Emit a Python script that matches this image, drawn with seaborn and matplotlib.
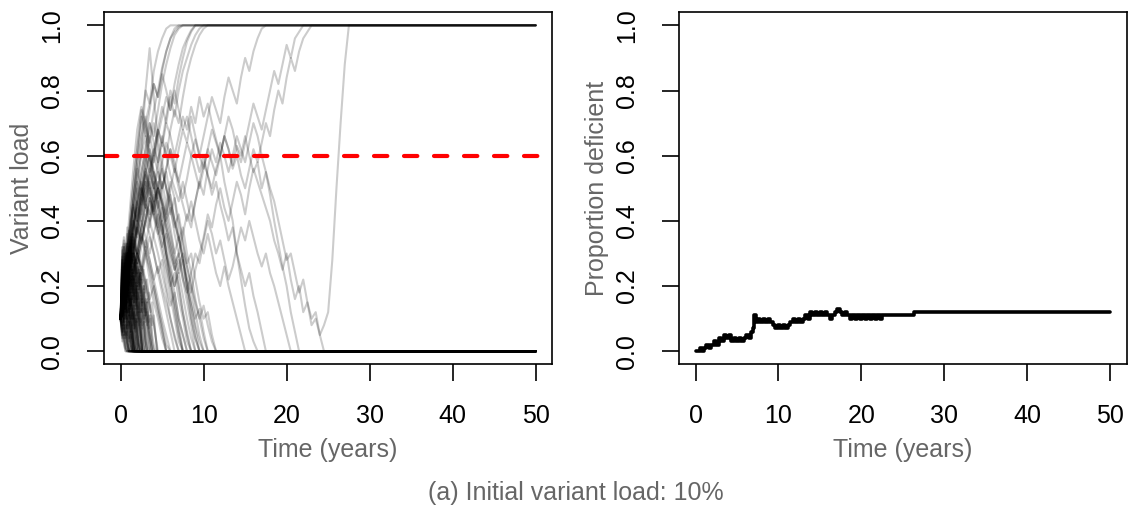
import numpy as np
import pandas as pd
import matplotlib
matplotlib.use("Agg")
import matplotlib.pyplot as plt
import seaborn as sns

# ---------------- data ----------------
t_end = 50.0          # end of the simulated period (years)
dt_quick = 0.2        # sampling step of the short-lived runs (years)
dt_slow = 0.5         # sampling step of the longer runs (years)
threshold = 0.6       # deficiency threshold

# runs lost quickly (value -> 0 within a few years)
quick_runs = [
    [0.1, 0.06, 0.03, 0.0],
    [0.1, 0.05, 0.04, 0.01, 0.0],
    [0.1, 0.14, 0.08, 0.05, 0.02, 0.0],
    [0.1, 0.18, 0.12, 0.15, 0.08, 0.04, 0.0],
    [0.1, 0.2, 0.26, 0.18, 0.22, 0.14, 0.09, 0.05, 0.0],
    [0.1, 0.25, 0.3, 0.22, 0.18, 0.24, 0.16, 0.1, 0.12, 0.05, 0.0],
    [0.1, 0.08, 0.12, 0.07, 0.1, 0.04, 0.02, 0.0],
    [0.1, 0.16, 0.1, 0.13, 0.09, 0.11, 0.06, 0.08, 0.03, 0.0],
    [0.1, 0.22, 0.17, 0.28, 0.21, 0.25, 0.19, 0.14, 0.18, 0.1, 0.06, 0.02, 0.0],
    [0.1, 0.3, 0.35, 0.27, 0.32, 0.24, 0.28, 0.2, 0.15, 0.19, 0.12, 0.08, 0.1, 0.04, 0.0],
    [0.1, 0.12, 0.06, 0.09, 0.03, 0.0],
    [0.1, 0.19, 0.24, 0.17, 0.2, 0.13, 0.16, 0.1, 0.07, 0.03, 0.0],
    [0.1, 0.07, 0.11, 0.16, 0.12, 0.18, 0.14, 0.2, 0.15, 0.11, 0.14, 0.08, 0.05, 0.0],
    [0.1, 0.28, 0.22, 0.31, 0.36, 0.29, 0.33, 0.25, 0.3, 0.22, 0.18, 0.23, 0.16, 0.12, 0.15, 0.09, 0.05, 0.0],
    [0.1, 0.04, 0.07, 0.02, 0.0],
    [0.1, 0.15, 0.21, 0.16, 0.1, 0.13, 0.07, 0.04, 0.0],
    [0.1, 0.23, 0.18, 0.13, 0.17, 0.09, 0.12, 0.06, 0.02, 0.0],
    [0.1, 0.11, 0.17, 0.23, 0.19, 0.26, 0.2, 0.24, 0.17, 0.21, 0.14, 0.1, 0.13, 0.07, 0.09, 0.03, 0.0],
    [0.1, 0.26, 0.33, 0.28, 0.38, 0.32, 0.27, 0.34, 0.29, 0.23, 0.27, 0.2, 0.24, 0.17, 0.13, 0.16, 0.1, 0.06, 0.03, 0.0],
    [0.1, 0.09, 0.05, 0.08, 0.03, 0.01, 0.0],
    [0.1, 0.17, 0.13, 0.19, 0.14, 0.08, 0.11, 0.05, 0.0],
    [0.1, 0.21, 0.15, 0.19, 0.12, 0.16, 0.1, 0.13, 0.07, 0.1, 0.04, 0.0],
    [0.1, 0.13, 0.09, 0.14, 0.2, 0.15, 0.22, 0.18, 0.25, 0.2, 0.16, 0.19, 0.12, 0.15, 0.09, 0.06, 0.02, 0.0],
    [0.1, 0.32, 0.27, 0.22, 0.26, 0.19, 0.14, 0.17, 0.1, 0.06, 0.0],
    [0.1, 0.06, 0.1, 0.05, 0.08, 0.04, 0.06, 0.02, 0.0],
    [0.1, 0.18, 0.24, 0.3, 0.25, 0.29, 0.35, 0.3, 0.26, 0.31, 0.24, 0.28, 0.22, 0.26, 0.19, 0.22, 0.15, 0.18, 0.12, 0.08, 0.11, 0.05, 0.0],
    [0.1, 0.14, 0.2, 0.15, 0.11, 0.07, 0.09, 0.04, 0.0],
    [0.1, 0.24, 0.19, 0.23, 0.16, 0.2, 0.15, 0.11, 0.14, 0.09, 0.12, 0.07, 0.03, 0.0],
    [0.1, 0.12, 0.08, 0.11, 0.06, 0.03, 0.05, 0.01, 0.0],
    [0.1, 0.2, 0.27, 0.23, 0.3, 0.26, 0.21, 0.25, 0.18, 0.14, 0.18, 0.13, 0.08, 0.0],
    [0.1, 0.08, 0.13, 0.1, 0.15, 0.11, 0.16, 0.12, 0.08, 0.1, 0.05, 0.02, 0.0],
    [0.1, 0.29, 0.24, 0.2, 0.15, 0.18, 0.11, 0.07, 0.03, 0.0],
    [0.1, 0.16, 0.22, 0.28, 0.33, 0.27, 0.31, 0.36, 0.3, 0.34, 0.27, 0.31, 0.25, 0.21, 0.25, 0.18, 0.22, 0.16, 0.12, 0.15, 0.09, 0.05, 0.0],
    [0.1, 0.05, 0.02, 0.0],
    [0.1, 0.13, 0.18, 0.12, 0.15, 0.09, 0.05, 0.0],
    [0.1, 0.22, 0.28, 0.2, 0.24, 0.17, 0.13, 0.16, 0.1, 0.13, 0.06, 0.02, 0.0],
    [0.1, 0.19, 0.14, 0.18, 0.23, 0.18, 0.22, 0.16, 0.19, 0.13, 0.16, 0.1, 0.07, 0.04, 0.0],
    [0.1, 0.27, 0.21, 0.26, 0.19, 0.14, 0.1, 0.06, 0.0],
    [0.1, 0.09, 0.14, 0.19, 0.15, 0.21, 0.27, 0.23, 0.29, 0.24, 0.2, 0.24, 0.19, 0.15, 0.18, 0.12, 0.08, 0.11, 0.06, 0.02, 0.0],
    [0.1, 0.11, 0.07, 0.04, 0.06, 0.02, 0.0],
    [0.1, 0.2, 0.15, 0.24, 0.3, 0.25, 0.2, 0.26, 0.21, 0.16, 0.2, 0.14, 0.1, 0.06, 0.0],
    [0.1, 0.03, 0.05, 0.01, 0.0],
    [0.1, 0.17, 0.22, 0.27, 0.21, 0.17, 0.12, 0.08, 0.04, 0.0],
    [0.1, 0.12, 0.18, 0.24, 0.3, 0.26, 0.32, 0.27, 0.22, 0.28, 0.23, 0.19, 0.24, 0.18, 0.13, 0.09, 0.12, 0.06, 0.03, 0.0],
    [0.1, 0.06, 0.09, 0.13, 0.08, 0.05, 0.02, 0.0],
    [0.1, 0.25, 0.2, 0.15, 0.1, 0.14, 0.08, 0.03, 0.0],
    [0.1, 0.14, 0.1, 0.06, 0.03, 0.0],
    [0.1, 0.21, 0.27, 0.33, 0.28, 0.24, 0.29, 0.35, 0.31, 0.26, 0.2, 0.25, 0.19, 0.14, 0.1, 0.13, 0.07, 0.03, 0.0],
    [0.1, 0.08, 0.04, 0.06, 0.02, 0.0],
    [0.1, 0.19, 0.26, 0.2, 0.15, 0.19, 0.13, 0.17, 0.11, 0.07, 0.1, 0.05, 0.0],
    [0.1, 0.13, 0.17, 0.12, 0.16, 0.21, 0.17, 0.13, 0.09, 0.05, 0.02, 0.0],
    [0.1, 0.28, 0.34, 0.29, 0.25, 0.3, 0.24, 0.19, 0.23, 0.17, 0.12, 0.08, 0.04, 0.0],
    [0.1, 0.07, 0.05, 0.08, 0.04, 0.0],
    [0.1, 0.16, 0.23, 0.18, 0.25, 0.31, 0.26, 0.3, 0.24, 0.28, 0.21, 0.25, 0.18, 0.22, 0.16, 0.11, 0.15, 0.09, 0.11, 0.05, 0.02, 0.0],
    [0.1, 0.11, 0.15, 0.1, 0.07, 0.09, 0.04, 0.0],
    [0.1, 0.23, 0.3, 0.24, 0.19, 0.14, 0.18, 0.12, 0.07, 0.0],
    [0.1, 0.05, 0.08, 0.03, 0.01, 0.0],
    [0.1, 0.18, 0.14, 0.2, 0.26, 0.22, 0.18, 0.23, 0.17, 0.21, 0.15, 0.1, 0.06, 0.0],
    [0.1, 0.15, 0.11, 0.16, 0.12, 0.08, 0.05, 0.0],
    [0.1, 0.27, 0.32, 0.26, 0.31, 0.37, 0.32, 0.27, 0.32, 0.26, 0.21, 0.26, 0.2, 0.16, 0.2, 0.13, 0.09, 0.05, 0.0],
    [0.1, 0.21, 0.14, 0.24, 0.17, 0.27, 0.19, 0.25, 0.15, 0.22, 0.13, 0.18, 0.09, 0.13, 0.05, 0.0],
    [0.1, 0.17, 0.09, 0.15, 0.08, 0.13, 0.06, 0.1, 0.03, 0.0],
    [0.1, 0.26, 0.18, 0.29, 0.21, 0.31, 0.23, 0.28, 0.19, 0.24, 0.16, 0.21, 0.12, 0.16, 0.08, 0.03, 0.0],
    [0.1, 0.15, 0.22, 0.14, 0.2, 0.12, 0.18, 0.1, 0.14, 0.06, 0.09, 0.02, 0.0],
    [0.1, 0.31, 0.22, 0.3, 0.2, 0.27, 0.18, 0.24, 0.15, 0.2, 0.11, 0.15, 0.07, 0.0],
    [0.1, 0.13, 0.07, 0.12, 0.05, 0.09, 0.02, 0.0],
    [0.1, 0.19, 0.27, 0.2, 0.28, 0.21, 0.3, 0.22, 0.27, 0.18, 0.24, 0.16, 0.22, 0.14, 0.19, 0.11, 0.15, 0.07, 0.1, 0.03, 0.0],
    [0.1, 0.22, 0.16, 0.25, 0.18, 0.23, 0.14, 0.19, 0.1, 0.15, 0.07, 0.0],
    [0.1, 0.09, 0.16, 0.1, 0.17, 0.11, 0.15, 0.08, 0.12, 0.05, 0.0],
    [0.1, 0.24, 0.32, 0.24, 0.33, 0.26, 0.34, 0.25, 0.3, 0.21, 0.27, 0.19, 0.24, 0.15, 0.2, 0.12, 0.16, 0.08, 0.04, 0.0],
    [0.1, 0.18, 0.11, 0.18, 0.12, 0.17, 0.1, 0.14, 0.07, 0.11, 0.04, 0.0],
    [0.1, 0.28, 0.2, 0.27, 0.19, 0.25, 0.16, 0.21, 0.13, 0.17, 0.09, 0.12, 0.05, 0.0],
    [0.1, 0.12, 0.2, 0.13, 0.21, 0.15, 0.23, 0.16, 0.22, 0.14, 0.19, 0.12, 0.16, 0.08, 0.11, 0.04, 0.0],
    [0.1, 0.16, 0.1, 0.14, 0.07, 0.11, 0.04, 0.06, 0.0],
    [0.1, 0.23, 0.29, 0.21, 0.28, 0.2, 0.26, 0.18, 0.23, 0.15, 0.2, 0.13, 0.17, 0.09, 0.05, 0.0],
]

# runs lost after several years
mid_runs = [
    [0.1, 0.2, 0.32, 0.45, 0.58, 0.66, 0.72, 0.62, 0.55, 0.48, 0.4, 0.3, 0.22, 0.12, 0.05, 0.0],
    [0.1, 0.18, 0.26, 0.35, 0.5, 0.62, 0.8, 0.93, 0.78, 0.65, 0.58, 0.5, 0.42, 0.47, 0.36, 0.28, 0.2, 0.11, 0.04, 0.0],
    [0.1, 0.15, 0.24, 0.3, 0.38, 0.45, 0.52, 0.48, 0.55, 0.5, 0.46, 0.4, 0.44, 0.36, 0.3, 0.22, 0.15, 0.08, 0.0],
    [0.1, 0.22, 0.3, 0.27, 0.36, 0.42, 0.5, 0.46, 0.52, 0.44, 0.38, 0.3, 0.25, 0.18, 0.1, 0.05, 0.0],
    [0.1, 0.16, 0.21, 0.28, 0.24, 0.32, 0.4, 0.36, 0.3, 0.24, 0.18, 0.12, 0.06, 0.0],
    [0.1, 0.2, 0.28, 0.38, 0.46, 0.55, 0.62, 0.7, 0.64, 0.58, 0.5, 0.55, 0.47, 0.4, 0.34, 0.28, 0.2, 0.14, 0.08, 0.03, 0.0],
    [0.1, 0.14, 0.2, 0.25, 0.3, 0.36, 0.32, 0.4, 0.45, 0.5, 0.46, 0.42, 0.48, 0.4, 0.34, 0.38, 0.3, 0.24, 0.16, 0.1, 0.04, 0.0],
    [0.1, 0.19, 0.27, 0.22, 0.3, 0.26, 0.2, 0.14, 0.08, 0.0],
    [0.1, 0.24, 0.36, 0.5, 0.62, 0.74, 0.68, 0.6, 0.52, 0.45, 0.38, 0.3, 0.22, 0.15, 0.08, 0.0],
    [0.1, 0.17, 0.25, 0.33, 0.3, 0.38, 0.45, 0.42, 0.5, 0.46, 0.4, 0.45, 0.52, 0.47, 0.4, 0.33, 0.27, 0.3, 0.22, 0.15, 0.1, 0.12, 0.05, 0.0],
    [0.1, 0.2, 0.16, 0.24, 0.3, 0.26, 0.34, 0.28, 0.22, 0.16, 0.1, 0.05, 0.0],
    [0.1, 0.22, 0.34, 0.46, 0.56, 0.5, 0.44, 0.5, 0.42, 0.36, 0.3, 0.24, 0.17, 0.1, 0.03, 0.0],
    [0.1, 0.15, 0.12, 0.2, 0.26, 0.22, 0.3, 0.35, 0.3, 0.24, 0.28, 0.2, 0.14, 0.18, 0.1, 0.05, 0.0],
    [0.1, 0.25, 0.4, 0.55, 0.68, 0.75, 0.7, 0.64, 0.7, 0.62, 0.55, 0.5, 0.44, 0.38, 0.42, 0.34, 0.26, 0.2, 0.12, 0.05, 0.0],
    [0.1, 0.18, 0.24, 0.2, 0.28, 0.34, 0.4, 0.47, 0.43, 0.5, 0.45, 0.4, 0.34, 0.28, 0.2, 0.12, 0.06, 0.0],
    [0.1, 0.13, 0.18, 0.23, 0.19, 0.26, 0.22, 0.16, 0.2, 0.13, 0.08, 0.02, 0.0],
    [0.1, 0.21, 0.32, 0.28, 0.38, 0.48, 0.55, 0.6, 0.54, 0.47, 0.52, 0.45, 0.38, 0.3, 0.24, 0.28, 0.2, 0.14, 0.07, 0.0],
    [0.1, 0.16, 0.26, 0.36, 0.3, 0.24, 0.3, 0.22, 0.15, 0.1, 0.04, 0.0],
    [0.1, 0.2, 0.3, 0.42, 0.52, 0.6, 0.66, 0.58, 0.5, 0.55, 0.48, 0.42, 0.36, 0.3, 0.35, 0.28, 0.22, 0.16, 0.1, 0.13, 0.06, 0.0],
    [0.1, 0.14, 0.22, 0.3, 0.27, 0.35, 0.3, 0.25, 0.18, 0.12, 0.06, 0.0],
    [0.1, 0.23, 0.33, 0.44, 0.4, 0.48, 0.56, 0.5, 0.46, 0.52, 0.45, 0.38, 0.32, 0.26, 0.2, 0.12, 0.05, 0.0],
    [0.1, 0.17, 0.24, 0.31, 0.38, 0.34, 0.42, 0.38, 0.46, 0.5, 0.44, 0.38, 0.33, 0.27, 0.3, 0.24, 0.18, 0.1, 0.04, 0.0],
    [0.1, 0.2, 0.28, 0.35, 0.3, 0.38, 0.44, 0.4, 0.35, 0.3, 0.24, 0.18, 0.1, 0.04, 0.0],
    [0.1, 0.18, 0.25, 0.32, 0.4, 0.36, 0.31, 0.26, 0.2, 0.14, 0.07, 0.0],
    [0.1, 0.22, 0.3, 0.38, 0.45, 0.52, 0.47, 0.42, 0.48, 0.42, 0.35, 0.28, 0.2, 0.14, 0.06, 0.0],
    [0.1, 0.16, 0.24, 0.3, 0.27, 0.34, 0.4, 0.46, 0.41, 0.36, 0.4, 0.33, 0.27, 0.2, 0.24, 0.17, 0.1, 0.04, 0.0],
    [0.1, 0.2, 0.27, 0.24, 0.3, 0.25, 0.32, 0.28, 0.22, 0.26, 0.2, 0.15, 0.1, 0.05, 0.0],
    [0.1, 0.25, 0.36, 0.45, 0.4, 0.48, 0.55, 0.5, 0.44, 0.38, 0.32, 0.26, 0.2, 0.24, 0.16, 0.1, 0.03, 0.0],
]

# runs lost late (after 10-25 years)
late_runs = [
    [0.1, 0.2, 0.3, 0.38, 0.46, 0.52, 0.6, 0.55, 0.62, 0.68, 0.63, 0.7, 0.66, 0.6, 0.66, 0.72, 0.68, 0.75, 0.7, 0.78,
     0.72, 0.76, 0.7, 0.65, 0.6, 0.52, 0.46, 0.4, 0.3, 0.22, 0.14, 0.07, 0.03, 0.0],
    [0.1, 0.18, 0.26, 0.34, 0.42, 0.5, 0.46, 0.54, 0.6, 0.55, 0.5, 0.56, 0.62, 0.58, 0.52, 0.47, 0.53, 0.6, 0.65, 0.6,
     0.56, 0.62, 0.58, 0.54, 0.6, 0.66, 0.62, 0.57, 0.63, 0.6, 0.66, 0.6, 0.55, 0.58, 0.5, 0.55, 0.48, 0.4, 0.33, 0.26,
     0.2, 0.12, 0.06, 0.0],
    [0.1, 0.2, 0.3, 0.4, 0.36, 0.45, 0.52, 0.48, 0.42, 0.38, 0.44, 0.36, 0.3, 0.25, 0.3, 0.36, 0.42, 0.38, 0.46, 0.52,
     0.48, 0.56, 0.62, 0.58, 0.64, 0.6, 0.55, 0.6, 0.66, 0.62, 0.58, 0.64, 0.7, 0.66, 0.6, 0.55, 0.5, 0.46, 0.4, 0.34,
     0.28, 0.3, 0.24, 0.18, 0.22, 0.15, 0.1, 0.12, 0.05, 0.0],
    [0.1, 0.15, 0.22, 0.3, 0.38, 0.33, 0.4, 0.47, 0.42, 0.5, 0.56, 0.5, 0.46, 0.4, 0.35, 0.3, 0.26, 0.2, 0.15, 0.1,
     0.14, 0.08, 0.03, 0.0],
    [0.1, 0.2, 0.28, 0.36, 0.44, 0.5, 0.45, 0.4, 0.46, 0.38, 0.32, 0.36, 0.3, 0.25, 0.28, 0.22, 0.18, 0.24, 0.3, 0.27,
     0.34, 0.4, 0.36, 0.3, 0.34, 0.28, 0.22, 0.26, 0.32, 0.38, 0.34, 0.4, 0.35, 0.3, 0.26, 0.3, 0.24, 0.2, 0.15, 0.1,
     0.05, 0.0],
    [0.1, 0.2, 0.3, 0.38, 0.46, 0.42, 0.5, 0.56, 0.5, 0.44, 0.5, 0.56, 0.62, 0.56, 0.5, 0.45, 0.4, 0.46, 0.4, 0.34,
     0.3, 0.36, 0.3, 0.24, 0.2, 0.26, 0.2, 0.15, 0.1, 0.05, 0.0],
    [0.1, 0.22, 0.34, 0.45, 0.55, 0.62, 0.7, 0.76, 0.82, 0.78, 0.85, 0.8, 0.74, 0.8, 0.74, 0.68, 0.72, 0.66, 0.6, 0.55,
     0.6, 0.54, 0.48, 0.52, 0.45, 0.4, 0.34, 0.38, 0.3, 0.25, 0.2, 0.24, 0.17, 0.12, 0.06, 0.0],
]

# runs that reach fixation (value -> 1)
fixed_runs = [
    [0.1, 0.2, 0.32, 0.45, 0.58, 0.7, 0.8, 0.76, 0.86, 0.92, 0.96, 0.99, 1.0],
    [0.1, 0.18, 0.28, 0.36, 0.46, 0.55, 0.62, 0.7, 0.66, 0.74, 0.82, 0.88, 0.93, 0.97, 0.99, 1.0],
    [0.1, 0.22, 0.3, 0.4, 0.5, 0.45, 0.55, 0.62, 0.58, 0.66, 0.72, 0.78, 0.74, 0.82, 0.88, 0.93, 0.96, 0.985, 1.0],
    [0.1, 0.16, 0.24, 0.32, 0.4, 0.5, 0.58, 0.66, 0.6, 0.68, 0.75, 0.7, 0.78, 0.72, 0.8, 0.86, 0.9, 0.94, 0.97, 0.99, 1.0],
    [0.1, 0.2, 0.3, 0.42, 0.52, 0.48, 0.58, 0.66, 0.74, 0.8, 0.87, 0.92, 0.96, 0.99, 1.0],
    [0.1, 0.18, 0.26, 0.34, 0.3, 0.38, 0.46, 0.54, 0.5, 0.58, 0.64, 0.6, 0.68, 0.74, 0.7, 0.78, 0.85, 0.9, 0.94, 0.97,
     0.99, 1.0],
    [0.1, 0.2, 0.3, 0.4, 0.35, 0.44, 0.52, 0.6, 0.55, 0.5, 0.58, 0.64, 0.6, 0.55, 0.62, 0.68, 0.64, 0.72, 0.66, 0.6,
     0.66, 0.72, 0.78, 0.74, 0.7, 0.78, 0.84, 0.8, 0.76, 0.84, 0.9, 0.86, 0.92, 0.96, 0.99, 1.0],
    [0.1, 0.16, 0.24, 0.32, 0.4, 0.48, 0.44, 0.52, 0.46, 0.4, 0.36, 0.42, 0.5, 0.56, 0.52, 0.58, 0.64, 0.6, 0.55, 0.5,
     0.56, 0.62, 0.68, 0.64, 0.6, 0.66, 0.72, 0.68, 0.62, 0.58, 0.64, 0.7, 0.76, 0.72, 0.68, 0.74, 0.8, 0.86, 0.82, 0.88,
     0.94, 0.9, 0.96, 0.98, 1.0],
    [0.1, 0.2, 0.28, 0.36, 0.44, 0.4, 0.48, 0.56, 0.62, 0.58, 0.66, 0.6, 0.54, 0.5, 0.46, 0.52, 0.46, 0.4, 0.46, 0.52,
     0.58, 0.54, 0.5, 0.56, 0.6, 0.66, 0.62, 0.56, 0.6, 0.54, 0.5, 0.56, 0.62, 0.58, 0.64, 0.7, 0.66, 0.74, 0.8, 0.76,
     0.84, 0.9, 0.86, 0.92, 0.96, 0.98, 1.0],
    [0.1, 0.18, 0.28, 0.24, 0.32, 0.4, 0.35, 0.3, 0.36, 0.42, 0.38, 0.3, 0.24, 0.2, 0.26, 0.3, 0.22, 0.18, 0.25, 0.3,
     0.35, 0.42, 0.38, 0.45, 0.5, 0.44, 0.4, 0.46, 0.52, 0.48, 0.42, 0.5, 0.56, 0.52, 0.48, 0.44, 0.4, 0.34, 0.3, 0.25,
     0.3, 0.22, 0.16, 0.2, 0.12, 0.15, 0.08, 0.1, 0.05, 0.08, 0.12, 0.28, 0.5, 0.7, 0.88, 1.0],
    [0.1, 0.24, 0.36, 0.5, 0.62, 0.72, 0.66, 0.74, 0.82, 0.78, 0.86, 0.92, 0.96, 0.98, 0.995, 1.0],
    [0.1, 0.15, 0.22, 0.3, 0.38, 0.46, 0.54, 0.5, 0.6, 0.68, 0.64, 0.72, 0.8, 0.76, 0.84, 0.9, 0.95, 0.98, 1.0],
]

# proportion of runs above the threshold (right panel)
prop_t = [
    0.0, 0.5, 0.8, 1.0, 1.3, 1.6, 1.9, 2.2, 2.5, 2.8,
    3.1, 3.4, 3.7, 4.0, 4.3, 4.6, 4.9, 5.2, 5.5, 5.8,
    6.1, 6.4, 6.7, 6.9, 7.1, 7.3, 7.5, 7.8, 8.1, 8.4,
    8.7, 9.0, 9.3, 9.6, 9.9, 10.2, 10.5, 10.8, 11.1, 11.4,
    11.7, 12.0, 12.3, 12.6, 12.9, 13.2, 13.5, 13.8, 14.1, 14.4,
    14.7, 15.0, 15.3, 15.6, 15.9, 16.2, 16.5, 16.8, 17.1, 17.4,
    17.7, 18.0, 18.3, 18.6, 18.9, 19.2, 19.5, 19.8, 20.1, 20.4,
    20.7, 21.0, 21.3, 21.6, 21.9, 22.2, 22.5, 26.3, 50.0]
prop_v = [
    0.00, 0.01, 0.00, 0.01, 0.02, 0.01, 0.02, 0.03, 0.02, 0.04,
    0.03, 0.05, 0.04, 0.05, 0.03, 0.04, 0.03, 0.04, 0.03, 0.04,
    0.05, 0.04, 0.06, 0.07, 0.11, 0.09, 0.10, 0.09, 0.10, 0.09,
    0.10, 0.09, 0.08, 0.07, 0.08, 0.07, 0.08, 0.07, 0.08, 0.09,
    0.10, 0.09, 0.10, 0.09, 0.10, 0.11, 0.10, 0.12, 0.11, 0.12,
    0.11, 0.12, 0.11, 0.12, 0.11, 0.10, 0.11, 0.12, 0.13, 0.12,
    0.11, 0.12, 0.11, 0.10, 0.11, 0.10, 0.11, 0.10, 0.11, 0.10,
    0.11, 0.10, 0.11, 0.10, 0.11, 0.10, 0.11, 0.12, 0.12]

x_ticks = [0, 10, 20, 30, 40, 50]
y_ticks = [0.0, 0.2, 0.4, 0.6, 0.8, 1.0]
y_tick_labels = ["0.0", "0.2", "0.4", "0.6", "0.8", "1.0"]

# ---------------- long table of runs ----------------
rows = []
run_id = 0
for group, dt in [(quick_runs, dt_quick), (mid_runs, dt_slow),
                  (late_runs, dt_slow), (fixed_runs, dt_slow)]:
    for vals in group:
        for i, v in enumerate(vals):
            rows.append((run_id, i * dt, v))
        # absorbed state kept until the end of the period
        rows.append((run_id, t_end, vals[-1]))
        run_id += 1
runs = pd.DataFrame(rows, columns=["run", "time", "load"])
prop = pd.DataFrame({"time": prop_t[:len(prop_v)], "prop": prop_v[:len(prop_t)]})

# ---------------- style ----------------
sns.set_style("ticks")
plt.rcParams["font.family"] = ["Liberation Sans", "DejaVu Sans"]
plt.rcParams["axes.edgecolor"] = "black"
plt.rcParams["axes.linewidth"] = 1.2

W, H = 1133, 512
fig = plt.figure(figsize=(W / 100, H / 100), dpi=100)
fig.patch.set_facecolor("white")
ax1 = fig.add_axes([104 / W, (H - 364.3) / H, 448.3 / W, 352 / H])
ax2 = fig.add_axes([679 / W, (H - 364.3) / H, 447.7 / W, 352 / H])

lab_col = "#666666"
fs = 18

# left panel: trajectories
sns.lineplot(data=runs, x="time", y="load", units="run", estimator=None,
             color="black", alpha=0.2, linewidth=1.5, legend=False, ax=ax1)
ax1.axhline(threshold, color="#ff0000", linewidth=3.0, linestyle=(0, (3.2, 4.0)),
            dash_capstyle="round")

# right panel: proportion deficient
sns.lineplot(data=prop, x="time", y="prop", estimator=None, color="black",
             linewidth=2.6, drawstyle="steps-post", legend=False, ax=ax2)

for ax, ylab in [(ax1, "Variant load"), (ax2, "Proportion deficient")]:
    ax.set_xlim(-2, 52)
    ax.set_ylim(-0.04, 1.04)
    ax.set_xticks(x_ticks)
    ax.set_xticklabels([str(v) for v in x_ticks])
    ax.set_yticks(y_ticks)
    ax.set_yticklabels(y_tick_labels, rotation=90, va="center")
    ax.tick_params(direction="out", length=12, width=1.2, labelsize=fs,
                   pad=16.5, colors="black")
    for sp in ax.spines.values():
        sp.set_visible(True)
        sp.set_linewidth(1.2)
        sp.set_color("black")
    ax.set_xlabel("Time (years)", fontsize=fs, color=lab_col)
    ax.xaxis.set_label_coords(0.5, -0.243)
    ax.xaxis.label.set_va("center")
    ax.set_ylabel(ylab, fontsize=fs, color=lab_col, va="center")
    ax.yaxis.set_label_coords(-0.183, 0.5)
    ax.grid(False)
    ax.set_facecolor("white")

fig.text(575.5 / W, (H - 493) / H, "(a) Initial variant load: 10%",
         ha="center", va="center", fontsize=fs, color=lab_col)

fig.savefig("out.png", dpi=100, facecolor="white")
